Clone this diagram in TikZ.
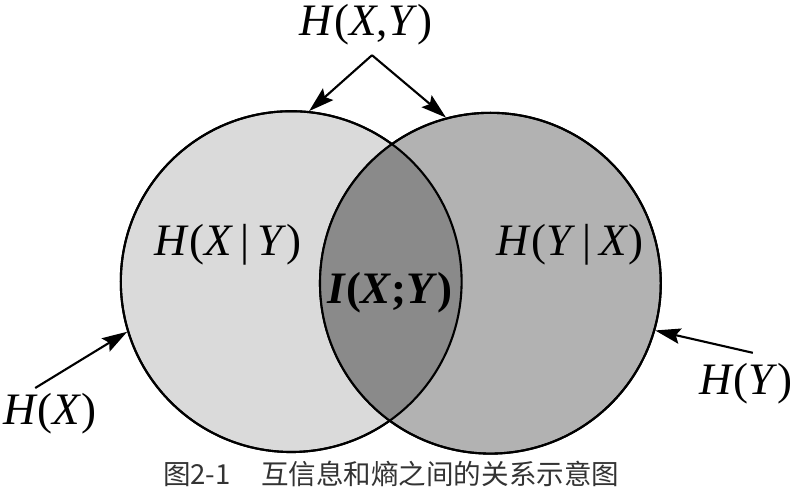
\documentclass[tikz,border=0pt]{standalone}
\usepackage{fontspec}
\setmainfont{Liberation Serif}
\newfontfamily\cjk{Noto Sans CJK SC}
\usepackage{tikz}
\usetikzlibrary{arrows.meta}

\definecolor{hxgray}{gray}{0.855}
\definecolor{hygray}{gray}{0.70}
\definecolor{ixygray}{gray}{0.54}

\tikzset{
  lbl/.style={font=\fontsize{16}{19}\selectfont, inner sep=1pt},
  setcircle/.style={circle, draw, line width=0.75pt, minimum size=4.26cm, inner sep=0pt},
  pointer/.style={-{Stealth[length=9pt,width=5.5pt,inset=1.5pt]}, line width=0.75pt}
}

\begin{document}
\begin{tikzpicture}
   \useasboundingbox (0,0) rectangle (10,6.2);
   % the two sets
   \draw (3.64,2.68) node[setcircle,fill=hxgray] (hx) {};
   \draw (6.13,2.66) node[setcircle,fill=hygray] (hy) {};
   \begin{scope}
     \clip (3.64,2.68) circle (2.13);
     \fill[ixygray] (6.13,2.66) circle (2.13);
   \end{scope}
   \draw[line width=0.75pt] (3.64,2.68) circle (2.13);
   \draw[line width=0.75pt] (6.13,2.66) circle (2.13);

   % labels
   \draw (4.575,5.89) node[lbl] (hxy) {\textit{H}(\textit{X},\textit{Y})};
   \draw (2.85,3.14) node[lbl] (hxgy) {\textit{H}(\textit{X}\,|\,\textit{Y})};
   \draw (4.875,2.54) node[lbl] (ixy) {\textbf{\textit{I}(\textit{X};\textit{Y})}};
   \draw (7.125,3.14) node[lbl] (hygx) {\textit{H}(\textit{Y}\,|\,\textit{X})};
   \draw (0.625,1.03) node[lbl] (hxl) {\textit{H}(\textit{X})};
   \draw (9.325,1.41) node[lbl] (hyl) {\textit{H}(\textit{Y})};
   \draw (4.89,0.28) node[font=\cjk\fontsize{9.8}{11}\selectfont, text=black!80] (caption) {图2-1\hspace{1.1em}互信息和熵之间的关系示意图};

   \coordinate (apex) at (4.65,5.51);
   \coordinate (hxtail) at (0.44,1.35);
   \coordinate (hytail) at (9.41,1.79);

   % pointers
   \draw[pointer] (apex) -- (hx.84);
   \draw[pointer] (apex) -- (hy.105.6);
   \draw[pointer] (hxtail) -- (hx.197.6);
   \draw[pointer] (hytail) -- (hy.344.5);
\end{tikzpicture}
\end{document}
